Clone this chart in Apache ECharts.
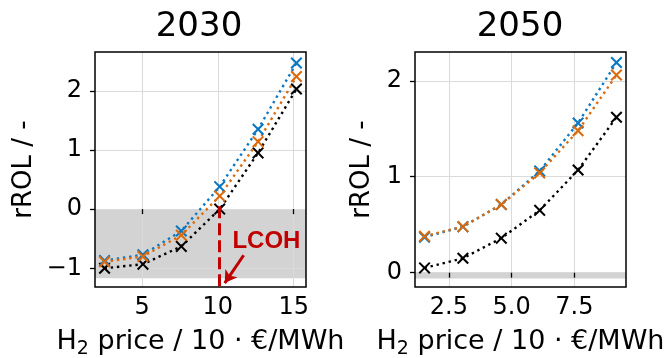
<!DOCTYPE html>
<html>
<head>
<meta charset="utf-8">
<script src="https://cdn.jsdelivr.net/npm/echarts@6/dist/echarts.min.js"></script>
<style>
  html, body { margin: 0; padding: 0; background: #fff; }
  #chart { width: 668px; height: 358px; }
</style>
</head>
<body>
<div id="chart"></div>
<script>
// H2 price steps (in 10 EUR/MWh) for each scenario year
const price2030 = [2.53, 5.06, 7.59, 10.12, 12.65, 15.18];
const price2050 = [1.53, 3.06, 4.59, 6.12, 7.65, 9.18];

// rROL values per case
const blue2030   = [-0.87, -0.77, -0.37, 0.38, 1.35, 2.47];
const orange2030 = [-0.89, -0.80, -0.44, 0.22, 1.14, 2.24];
const black2030  = [-1.00, -0.93, -0.63, 0.00, 0.95, 2.03];

const blue2050   = [0.37, 0.48, 0.71, 1.06, 1.56, 2.19];
const orange2050 = [0.38, 0.48, 0.71, 1.04, 1.48, 2.06];
const black2050  = [0.05, 0.15, 0.36, 0.65, 1.07, 1.62];

// axis ranges and tick positions
const xRange2030 = [1.9, 15.81];
const yRange2030 = [-1.316, 2.655];
const xRange2050 = [1.15, 9.56];
const yRange2050 = [-0.149, 2.30];
const xTicks2030 = [5, 10, 15];
const yTicks2030 = [-1, 0, 1, 2];
const xTicks2050 = [2.5, 5.0, 7.5];
const yTicks2050 = [0, 1, 2];

// shaded "not profitable" bands
const band2030 = [-1.17, 0];
const band2050 = [-0.06, 0];

// LCOH marker: price where rROL crosses zero, label and arrow
const lcohPrice = 10.12;
const lcohLabelPos = [13.2, -0.55];
const lcohArrowFrom = [11.7, -0.78];
const lcohArrowTo = [10.45, -1.25];

const titles = ['2030', '2050'];
const yName = 'rROL / -';
// x axis name with a subscript "2" (rich text)
const xName = '{t|H}{s|2}{t| price / 10 \u00b7 \u20ac/MWh}';

const FONT = 'DejaVu Sans';
const BLUE = '#0a78c0';
const ORANGE = '#da6a0c';
const BLACK = '#000000';
const RED = '#c00000';

const crossPath = 'path://M0,1.2L1.2,0L5,3.8L8.8,0L10,1.2L6.2,5L10,8.8L8.8,10L5,6.2L1.2,10L0,8.8L3.8,5Z';

const zip = (xs, ys) => xs.map((x, i) => [x, ys[i]]);
const minus = v => String(v).replace('-', '\u2212');

function makeSeries(name, xs, ys, color, idx, extra) {
  return Object.assign({
    name: name,
    type: 'line',
    xAxisIndex: idx,
    yAxisIndex: idx,
    data: zip(xs, ys),
    symbol: crossPath,
    symbolSize: 12,
    showAllSymbol: true,
    itemStyle: { color: color },
    lineStyle: { color: color, width: 2.4, type: [2.4, 3.8], cap: 'butt' },
    animation: false,
    z: 3
  }, extra || {});
}

function bandSeries(idx, band, xr) {
  return {
    type: 'line',
    xAxisIndex: idx,
    yAxisIndex: idx,
    data: [],
    silent: true,
    z: 1,
    markArea: {
      silent: true,
      z: -1,
      itemStyle: { color: '#d3d3d3' },
      data: [[{ coord: [xr[0], band[1]] }, { coord: [xr[1], band[0]] }]]
    }
  };
}

function xAxis(idx, range, ticks, fmt) {
  return {
    type: 'value',
    gridIndex: idx,
    min: range[0],
    max: range[1],
    name: xName,
    nameLocation: 'middle',
    nameGap: 38,
    nameTextStyle: {
      fontFamily: FONT, fontSize: 27, color: '#000',
      rich: {
        t: { fontFamily: FONT, fontSize: 27, lineHeight: 34, color: '#000' },
        s: { fontFamily: FONT, fontSize: 19, lineHeight: 18, verticalAlign: 'bottom', color: '#000' }
      }
    },
    axisLine: { show: false },
    axisTick: { show: true, inside: false, length: 5, customValues: ticks, lineStyle: { color: '#000', width: 1.3 } },
    axisLabel: { customValues: ticks, formatter: fmt, fontFamily: FONT, fontSize: 24, color: '#000', margin: 9 },
    splitLine: { show: true, lineStyle: { color: '#dadada', width: 1 } }
  };
}

function yAxis(idx, range, ticks, gap) {
  return {
    type: 'value',
    gridIndex: idx,
    min: range[0],
    max: range[1],
    name: yName,
    nameLocation: 'middle',
    nameGap: gap,
    nameRotate: 90,
    nameTextStyle: { fontFamily: FONT, fontSize: 26, color: '#000' },
    axisLine: { show: false },
    axisTick: { show: true, inside: false, length: 5, customValues: ticks, lineStyle: { color: '#000', width: 1.3 } },
    axisLabel: { customValues: ticks, formatter: minus, fontFamily: FONT, fontSize: 24, color: '#000', margin: 13 },
    splitLine: { show: true, lineStyle: { color: '#dadada', width: 1 } }
  };
}

const gridBase = {
  top: 52, width: 211, height: 235, show: true,
  borderColor: '#000', borderWidth: 1.5, backgroundColor: 'transparent', z: 4,
  outerBoundsMode: 'none', containLabel: false
};

const chart = echarts.init(document.getElementById('chart'), null, { renderer: 'canvas' });

chart.setOption({
  animation: false,
  backgroundColor: '#fff',
  title: [
    { text: titles[0], left: 199, top: 10, textAlign: 'center', padding: 0,
      textStyle: { fontFamily: FONT, fontSize: 34, fontWeight: 'normal', color: '#000' } },
    { text: titles[1], left: 520, top: 10, textAlign: 'center', padding: 0,
      textStyle: { fontFamily: FONT, fontSize: 34, fontWeight: 'normal', color: '#000' } }
  ],
  grid: [
    Object.assign({ left: 95 }, gridBase),
    Object.assign({ left: 415 }, gridBase)
  ],
  xAxis: [
    xAxis(0, xRange2030, xTicks2030, v => String(v)),
    xAxis(1, xRange2050, xTicks2050, v => v.toFixed(1))
  ],
  yAxis: [
    yAxis(0, yRange2030, yTicks2030, 58),
    yAxis(1, yRange2050, yTicks2050, 40)
  ],
  series: [
    bandSeries(0, band2030, xRange2030),
    bandSeries(1, band2050, xRange2050),
    makeSeries('2030 black', price2030, black2030, BLACK, 0, {
      markLine: {
        silent: true,
        symbol: 'none',
        z: 6,
        label: { show: false },
        data: [
          [
            { coord: [lcohPrice, 0.05], lineStyle: { color: RED, width: 3, type: [12, 5] }, symbol: 'none' },
            { coord: [lcohPrice, yRange2030[0]], symbol: 'none' }
          ],
          [
            { coord: lcohArrowFrom, lineStyle: { color: RED, width: 3, type: 'solid' }, symbol: 'none' },
            { coord: lcohArrowTo, symbol: 'arrow', symbolSize: [11, 12] }
          ]
        ]
      },
      markPoint: {
        silent: true,
        symbol: 'circle',
        symbolSize: 0,
        data: [{ coord: lcohLabelPos }],
        label: {
          show: true, position: 'inside', formatter: 'LCOH',
          fontFamily: 'Liberation Sans', fontWeight: 'bold', fontSize: 24, color: RED
        }
      }
    }),
    makeSeries('2030 blue', price2030, blue2030, BLUE, 0),
    makeSeries('2030 orange', price2030, orange2030, ORANGE, 0),
    makeSeries('2050 black', price2050, black2050, BLACK, 1),
    makeSeries('2050 blue', price2050, blue2050, BLUE, 1),
    makeSeries('2050 orange', price2050, orange2050, ORANGE, 1)
  ]
});
</script>
</body>
</html>
